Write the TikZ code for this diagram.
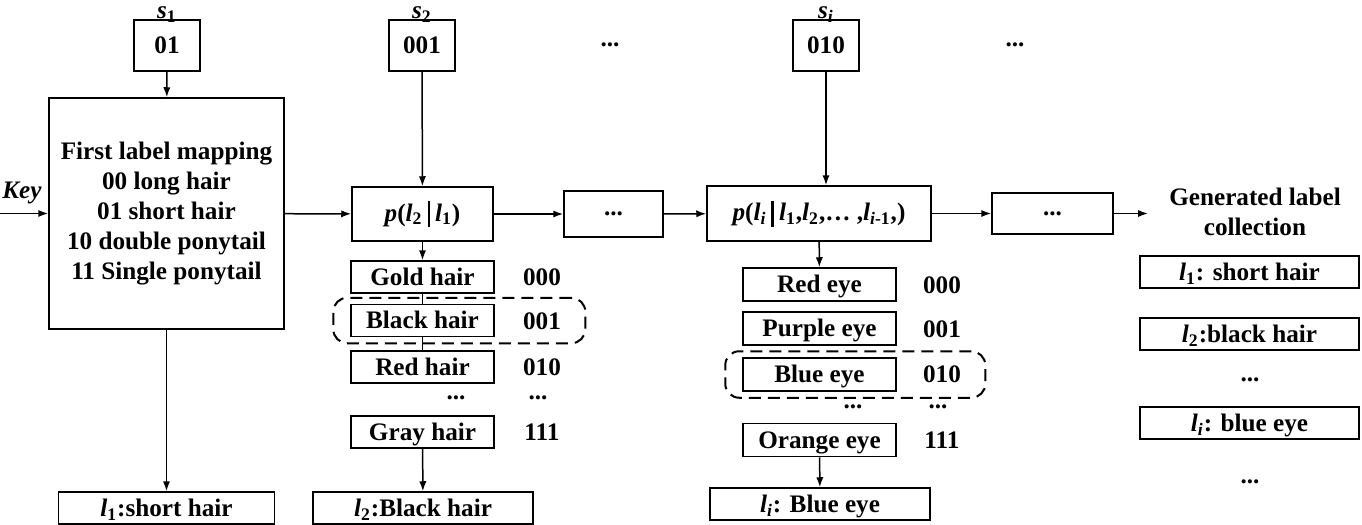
\documentclass[tikz,border=0pt]{standalone}
\usepackage{fontspec}
\setmainfont{Liberation Serif}
\usetikzlibrary{arrows.meta,positioning,fit}
\tikzset{
  block/.style={
      rectangle, draw, inner sep=0pt, align=center,
  },
  sbox/.style={block, minimum width=33pt, minimum height=25.5pt},
  tagbox/.style={block, text height=9pt, text depth=0.6pt},
  hairtag/.style={tagbox, minimum width=71.5pt, minimum height=16pt},
  eyetag/.style={tagbox, minimum width=76.5pt, minimum height=16.5pt},
  outtag/.style={tagbox, minimum width=110pt, minimum height=16pt},
  pick/.style={
    draw, dash pattern=on 6pt off 3.5pt, line width=1pt,
    rounded corners=7pt, inner xsep=8.5pt, inner ysep=3pt,
  }
}
\newcommand{\lsub}[1]{\textit{l}\textsubscript{#1}}
\newcommand{\condbar}{\hspace{2.5pt}\rule[-3pt]{1.3pt}{13pt}\hspace{2.5pt}}

\begin{document}
\begin{tikzpicture}[x=0.5pt, y=-0.5pt, line width=0.75pt,
  font=\fontsize{12.6}{15}\selectfont\bfseries,
  >={Latex[length=5pt,width=3.6pt]}]
\useasboundingbox (0,0) rectangle (1362,525);

\node [sbox] (s1) at (167,45.5) {01};
\node [sbox] (s2) at (422,45.5) {001};
\node [sbox] (si) at (826,45.5) {010};
\node [above=-2pt of s1, inner sep=0pt] (s1lab) {\textit{s}\textsubscript{1}};
\node [above=-2pt of s2, inner sep=0pt] (s2lab) {\textit{s}\textsubscript{2}};
\node [above=-2pt of si, inner sep=0pt] (silab) {\textit{s}\textsubscript{\textit{i}}};
\node (topdots1) at (610,45) {...};
\node (topdots2) at (1015,45) {...};

\node [block, minimum width=117.5pt, minimum height=115.5pt] (map) at (166.5,213.5)
  {First label mapping\\00 long hair\\01 short hair\\10 double ponytail\\11 Single ponytail};
\node (key) at (22,193) {\textit{Key}};
\coordinate (keyin) at (0,213.5);

\node [block, minimum width=70.5pt, minimum height=27pt] (p2) at (422.5,214)
  {\textit{p}(\lsub{2}\condbar\lsub{1})};
\node [block, minimum width=49.5pt, minimum height=23pt] (dots1) at (613.5,214) {...};
\node [block, minimum width=112pt, minimum height=27.5pt] (pi) at (819,213.5)
  {\textit{p}(\lsub{\textit{i}}\condbar\lsub{1},\lsub{2},\ldots\ ,\lsub{\textit{i}-1},)};
\node [block, minimum width=60.5pt, minimum height=20.5pt] (dots2) at (1052.5,213.5) {...};
\node [align=center] (gen) at (1255,212) {Generated label\\collection};
\coordinate (genin) at (1148,213.5);

\node [hairtag] (gold) at (422.5,277) {Gold hair};
\node [hairtag] (black) at (422.5,320.5) {Black hair};
\node [hairtag] (red) at (422.5,367) {Red hair};
\node [hairtag] (gray) at (422.5,432) {Gray hair};
\node (h000) at (542,277) {000};
\node (h001) at (542,321) {001};
\node (h010) at (542,367) {010};
\node (hdotsa) at (456,398) {...};
\node (hdotsb) at (538,398) {...};
\node (h111) at (542,432) {111};
\node [pick, fit=(black)(h001)] (pickhair) {};

\node [eyetag] (redeye) at (819.5,284.5) {Red eye};
\node [eyetag] (purpleeye) at (819.5,328.5) {Purple eye};
\node [eyetag] (blueeye) at (819.5,374.5) {Blue eye};
\node [eyetag] (orangeeye) at (819.5,440) {Orange eye};
\node (e000) at (942,285) {000};
\node (e001) at (942,329) {001};
\node (e010) at (942,374) {010};
\node (edotsa) at (853,407) {...};
\node (edotsb) at (938,407) {...};
\node (e111) at (942,440) {111};
\node [pick, fit=(blueeye)(e010)] (pickeye) {};

\node [outtag, minimum width=108pt] (l1) at (166.5,508) {\lsub{1}:short hair};
\node [outtag] (l2) at (423,508) {\lsub{2}:Black hair};
\node [outtag] (li) at (820,504) {\lsub{\textit{i}}: Blue eye};

\node [outtag, minimum width=109.5pt] (g1) at (1249.5,272) {\lsub{1}: short hair};
\node [outtag, minimum width=109.5pt] (g2) at (1249.5,334) {\lsub{2}:black hair};
\node (gdotsa) at (1250,380) {...};
\node [outtag, minimum width=109.5pt] (gi) at (1249.5,423) {\lsub{\textit{i}}: blue eye};
\node (gdotsb) at (1250,482) {...};

\draw [->] (s1) -- (map);
\draw [->] (keyin) -- (map);
\draw [->] (map) -- (p2);
\draw [->] (map) -- (l1);
\draw [->] (s2) -- (p2);
\draw [->] (p2) -- (dots1);
\draw [->] (dots1) -- (pi);
\draw [->] (si) -- (si |- pi.north);
\draw [->] (pi) -- (dots2);
\draw [->] (dots2) -- (genin);
\draw [->] (p2) -- (gold);
\draw (gold) -- (black) (black) -- (red);
\draw [->] (gray) -- (l2);
\draw [->] (pi) -- (redeye);
\draw [->] (orangeeye) -- (li);
\end{tikzpicture}
\end{document}
